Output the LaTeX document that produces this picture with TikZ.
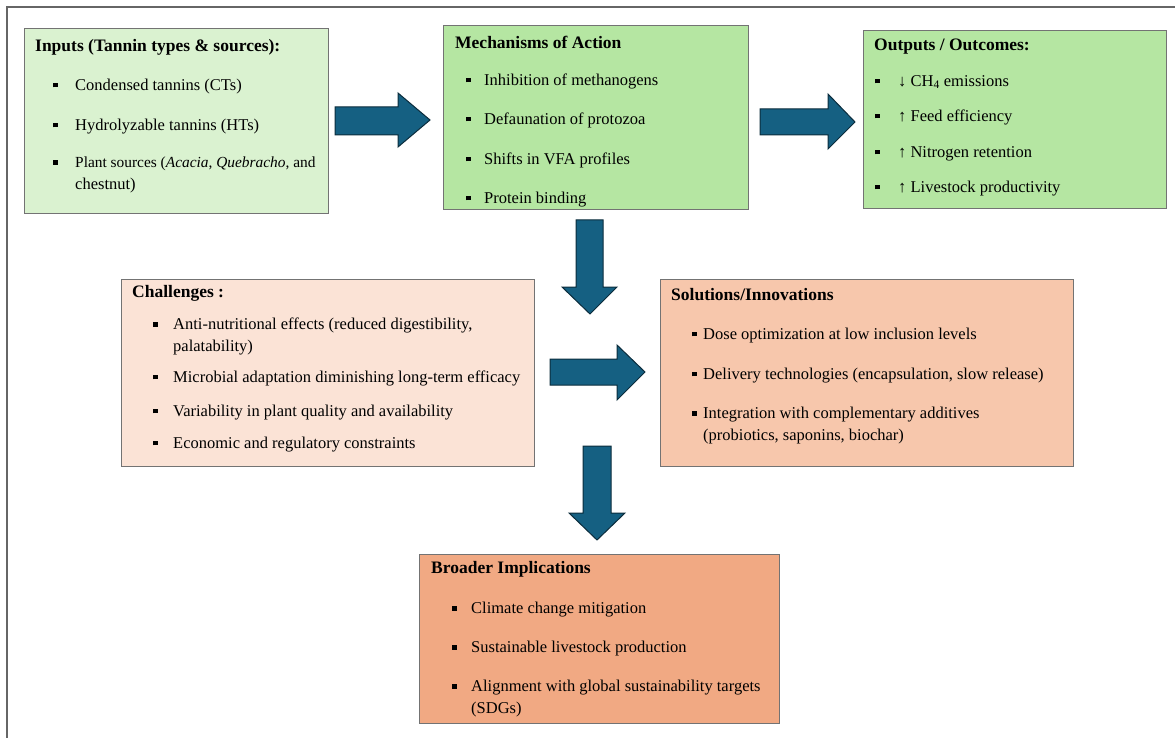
\documentclass[tikz,border=0pt]{standalone}
\usepackage{fontspec}
\setmainfont{Liberation Serif}
\usetikzlibrary{shapes,arrows}
\definecolor{inpgreen}{HTML}{DAF2D0}
\definecolor{midgreen}{HTML}{B5E6A2}
\definecolor{chalpink}{HTML}{FBE3D6}
\definecolor{solpeach}{HTML}{F7C7AC}
\definecolor{impsalmon}{HTML}{F1A983}
\definecolor{arrowblue}{HTML}{156082}
\definecolor{arrowedge}{HTML}{0B2C3C}
\newcommand{\bodyfont}{\fontsize{16.5}{21.5}\selectfont}
\newcommand{\itm}[2]{\makebox[#1][l]{\raisebox{0.17em}{\rule{4.5pt}{4.5pt}}}\begin{tabular}[t]{@{}l@{}}#2\end{tabular}}
\tikzset{
  box/.style={draw=black!55, line width=0.9pt},
  head/.style={anchor=west, inner sep=0pt, font=\fontsize{17.5}{21.5}\selectfont\bfseries},
  item/.style={anchor=west, inner sep=0pt, align=left},
  blockarrow/.style={fill=arrowblue, draw=arrowedge, line width=1pt, line join=miter}
}
\begin{document}
\begin{tikzpicture}[x=1pt, y=-1pt, font=\bodyfont]
  \useasboundingbox (0,0) rectangle (1175,738);
  \draw[line width=2pt, black!60] (1175,7) -| (7,738);

  % top row
  \draw[box, fill=inpgreen] (24,28) rectangle (328,213);
  \node[head] (inT) at (35,47) {Inputs (Tannin types \& sources):};
  \node[item] (in1) at (53,86) {\itm{22pt}{Condensed tannins (CTs)}};
  \node[item] (in2) at (53,126) {\itm{22pt}{Hydrolyzable tannins (HTs)}};
  \node[item] (in3) at (53,174) {\itm{22pt}{\fontsize{15.4}{21.5}\selectfont Plant sources (\textit{Acacia}, \textit{Quebracho}, and\\\fontsize{16.5}{21.5}\selectfont chestnut)}};

  \draw[box, fill=midgreen] (443,25) rectangle (748,209);
  \node[head] (meT) at (455,42) {Mechanisms of Action};
  \node[item] (me1) at (466,81) {\itm{18pt}{Inhibition of methanogens}};
  \node[item] (me2) at (466,120) {\itm{18pt}{Defaunation of protozoa}};
  \node[item] (me3) at (466,160) {\itm{18pt}{Shifts in VFA profiles}};
  \node[item] (me4) at (466,199) {\itm{18pt}{Protein binding}};

  \draw[box, fill=midgreen] (863,30) rectangle (1166,208);
  \node[head] (ouT) at (874,47) {Outputs / Outcomes:};
  \node[item] (ou1) at (875,82) {\itm{23pt}{↓ CH\textsubscript{4} emissions}};
  \node[item] (ou2) at (875,117) {\itm{23pt}{↑ Feed efficiency}};
  \node[item] (ou3) at (875,153) {\itm{23pt}{↑ Nitrogen retention}};
  \node[item] (ou4) at (875,188) {\itm{23pt}{↑ Livestock productivity}};

  % middle row
  \draw[box, fill=chalpink] (121,279) rectangle (534,466);
  \node[head] (chT) at (132,293) {Challenges :};
  \node[item] (ch1) at (153,336) {\itm{20pt}{Anti-nutritional effects (reduced digestibility,\\palatability)}};
  \node[item] (ch2) at (153,378) {\itm{20pt}{Microbial adaptation diminishing long-term efficacy}};
  \node[item] (ch3) at (153,412) {\itm{20pt}{Variability in plant quality and availability}};
  \node[item] (ch4) at (153,444) {\itm{20pt}{Economic and regulatory constraints}};

  \draw[box, fill=solpeach] (660,279) rectangle (1073,466);
  \node[head] (soT) at (671,295) {Solutions/Innovations};
  \node[item] (so1) at (692,335) {\itm{11pt}{Dose optimization at low inclusion levels}};
  \node[item] (so2) at (692,375) {\itm{11pt}{Delivery technologies (encapsulation, slow release)}};
  \node[item] (so3) at (692,425) {\itm{11pt}{Integration with complementary additives\\(probiotics, saponins, biochar)}};

  % bottom
  \draw[box, fill=impsalmon] (419,554) rectangle (779,723);
  \node[head] (brT) at (431,569) {Broader Implications};
  \node[item] (br1) at (452,609) {\itm{19pt}{Climate change mitigation}};
  \node[item] (br2) at (452,648) {\itm{19pt}{Sustainable livestock production}};
  \node[item] (br3) at (452,698) {\itm{19pt}{Alignment with global sustainability targets\\(SDGs)}};

  % block arrows
  \draw[blockarrow] (335,107) -- (398,107) -- (398,93) -- (430,120) -- (398,147) -- (398,135) -- (335,135) -- cycle;
  \draw[blockarrow] (760,109) -- (828,109) -- (828,94) -- (855,122) -- (828,149) -- (828,135) -- (760,135) -- cycle;
  \draw[blockarrow] (576,220) -- (603,220) -- (603,287) -- (617,287) -- (590,314) -- (562,287) -- (576,287) -- cycle;
  \draw[blockarrow] (550,359) -- (617,359) -- (617,345) -- (645,372) -- (617,400) -- (617,385) -- (550,385) -- cycle;
  \draw[blockarrow] (583,446) -- (611,446) -- (611,513) -- (625,513) -- (597,540) -- (569,513) -- (583,513) -- cycle;
\end{tikzpicture}
\end{document}
